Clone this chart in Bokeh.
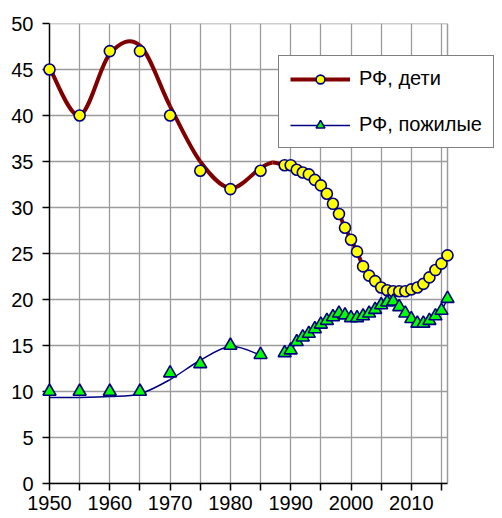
import numpy as np
from bokeh.plotting import figure
from bokeh.models import Range1d, FixedTicker, Legend, LegendItem, ColumnDataSource
from bokeh.embed import file_html
from bokeh.resources import INLINE

# ---- data ----
years_early = [1950, 1955, 1960, 1965, 1970, 1975, 1980, 1985]
kids_early = [45, 40, 47, 47, 40, 34, 32, 34]
eld_early = [10, 10, 10, 10, 12, 13, 15, 14]

years_late = [1989, 1990, 1991, 1992, 1993, 1994, 1995, 1996, 1997, 1998,
              1999, 2000, 2001, 2002, 2003, 2004, 2005, 2006, 2007, 2008,
              2009, 2010, 2011, 2012, 2013, 2014, 2015, 2016]
kids_late = [34.6, 34.6, 34.1, 33.8, 33.6, 33.0, 32.4, 31.5, 30.4, 29.3,
             27.8, 26.5, 25.2, 23.6, 22.6, 22.0, 21.3, 21.0, 20.9, 20.9,
             20.9, 21.1, 21.3, 21.7, 22.4, 23.2, 23.9, 24.8]
eld_late = [14.2, 14.5, 15.4, 15.9, 16.3, 16.8, 17.3, 17.7, 18.1, 18.5,
            18.3, 18.0, 18.0, 18.2, 18.5, 18.9, 19.4, 19.7, 19.8, 19.2,
            18.5, 17.9, 17.4, 17.4, 17.7, 18.2, 18.8, 20.1]

# smoothed trend lines (knots)
kids_curve_years = [1950, 1955, 1960, 1965, 1970, 1975, 1980, 1985, 1987] + years_late
kids_curve_vals = [45.2, 40.0, 46.7, 47.6, 41.0, 35.0, 32.1, 34.3, 34.9] + kids_late
eld_curve_years = [1950, 1955, 1960, 1965, 1970, 1975, 1980, 1985]
eld_curve_vals = [9.35, 9.35, 9.45, 9.75, 11.3, 13.4, 14.9, 13.95]

x_start, x_end = 1950, 2016
y_start, y_end = 0, 50
x_ticks = [1950, 1955, 1960, 1965, 1970, 1975, 1980, 1985, 1990, 1995, 2000, 2005, 2010, 2015]
x_labels = {1950: "1950", 1960: "1960", 1970: "1970", 1980: "1980", 1990: "1990", 2000: "2000", 2010: "2010"}
y_ticks = [0, 5, 10, 15, 20, 25, 30, 35, 40, 45, 50]

label_kids = "РФ, дети"
label_eld = "РФ, пожилые"


def bezier_source(xs, ys):
    xs = np.asarray(xs, float)
    ys = np.asarray(ys, float)
    xp = np.concatenate([[xs[0]], xs, [xs[-1]]])
    yp = np.concatenate([[ys[0]], ys, [ys[-1]]])
    i = np.arange(len(xs) - 1)
    return ColumnDataSource(dict(
        x0=xp[i + 1], y0=yp[i + 1], x1=xp[i + 2], y1=yp[i + 2],
        cx0=xp[i + 1] + (xp[i + 2] - xp[i]) / 6, cy0=yp[i + 1] + (yp[i + 2] - yp[i]) / 6,
        cx1=xp[i + 2] - (xp[i + 3] - xp[i + 1]) / 6, cy1=yp[i + 2] - (yp[i + 3] - yp[i + 1]) / 6,
    ))


FONT = "Liberation Sans"
GRID = "#9c9c9c"
KID_LINE = "#800000"
NAVY = "#000080"

# geometry: plot area 398 px for 1950..2016; the frame extends further right so the
# legend (which overlaps the right margin) is not clipped
LEFT, TOP, PLOT_W, PLOT_H, FIG_W, FIG_H = 49, 23, 398, 460, 500, 518
frame_w = FIG_W - LEFT
x_max = x_start + (x_end - x_start) * frame_w / PLOT_W

p = figure(width=FIG_W, height=FIG_H, x_range=Range1d(x_start, x_max), y_range=Range1d(y_start, y_end),
           output_backend="svg", toolbar_location=None,
           min_border_left=LEFT, min_border_right=0, min_border_top=TOP,
           min_border_bottom=FIG_H - TOP - PLOT_H)
p.background_fill_color = "white"
p.border_fill_color = "white"
p.outline_line_color = None

# axes
for ax in (p.xaxis[0], p.yaxis[0]):
    ax.axis_line_color = "black"
    ax.axis_line_width = 1.5
    ax.major_tick_line_color = "black"
    ax.major_tick_line_width = 1.5
    ax.major_tick_in = 0
    ax.major_tick_out = 7
    ax.minor_tick_line_color = None
    ax.major_label_text_font = FONT
    ax.major_label_text_font_size = "20px"
    ax.major_label_text_color = "black"

p.xaxis.ticker = FixedTicker(ticks=x_ticks)
p.xaxis.bounds = (x_start, x_end)
p.xaxis.major_label_overrides = {t: x_labels.get(t, "") for t in x_ticks}
p.xaxis.major_label_standoff = 5
p.yaxis.ticker = FixedTicker(ticks=y_ticks)
p.yaxis.major_label_standoff = 9

p.xgrid.ticker = FixedTicker(ticks=x_ticks)
p.xgrid.grid_line_color = GRID
p.xgrid.grid_line_width = 1.3
p.ygrid.visible = False

# horizontal grid lines limited to the plot area, and right border
p.segment(x0=[x_start] * len(y_ticks), x1=[x_end] * len(y_ticks), y0=y_ticks, y1=y_ticks,
          line_color=GRID, line_width=1.3)
p.segment(x0=[x_end], x1=[x_end], y0=[y_start], y1=[y_end], line_color=GRID, line_width=1.5)

# trend lines
kid_curve = p.bezier(x0="x0", y0="y0", x1="x1", y1="y1", cx0="cx0", cy0="cy0", cx1="cx1", cy1="cy1",
                     source=bezier_source(kids_curve_years, kids_curve_vals), line_color=KID_LINE, line_width=4)
eld_curve = p.bezier(x0="x0", y0="y0", x1="x1", y1="y1", cx0="cx0", cy0="cy0", cx1="cx1", cy1="cy1",
                     source=bezier_source(eld_curve_years, eld_curve_vals), line_color=NAVY, line_width=1.5)
p.bezier(x0="x0", y0="y0", x1="x1", y1="y1", cx0="cx0", cy0="cy0", cx1="cx1", cy1="cy1",
         source=bezier_source(years_late, eld_late), line_color=NAVY, line_width=1.5)

# markers
kid_pts = p.scatter(x=years_early + years_late, y=kids_early + kids_late, marker="circle",
                    size=11, fill_color="#FFFF00", line_color=NAVY, line_width=1.6, level="annotation")
eld_pts = p.scatter(x=years_early + years_late, y=eld_early + eld_late, marker="triangle",
                    size=13, fill_color="#00FF00", line_color=NAVY, line_width=1.6, level="annotation")

legend = Legend(items=[LegendItem(label=label_kids, renderers=[kid_curve, kid_pts]),
                       LegendItem(label=label_eld, renderers=[eld_curve, eld_pts])],
                location=(278 - LEFT, TOP + PLOT_H - 148))
legend.label_text_font = FONT
legend.label_text_font_size = "20px"
legend.label_text_color = "black"
legend.glyph_width = 60
legend.glyph_height = 22
legend.label_height = 22
legend.label_standoff = 9
legend.spacing = 23
legend.padding = 11
legend.margin = 0
legend.border_line_color = "black"
legend.border_line_width = 1.5
legend.background_fill_color = "white"
legend.background_fill_alpha = 1
p.add_layout(legend, "center")

open("out.html", "w").write(file_html(p, INLINE))
